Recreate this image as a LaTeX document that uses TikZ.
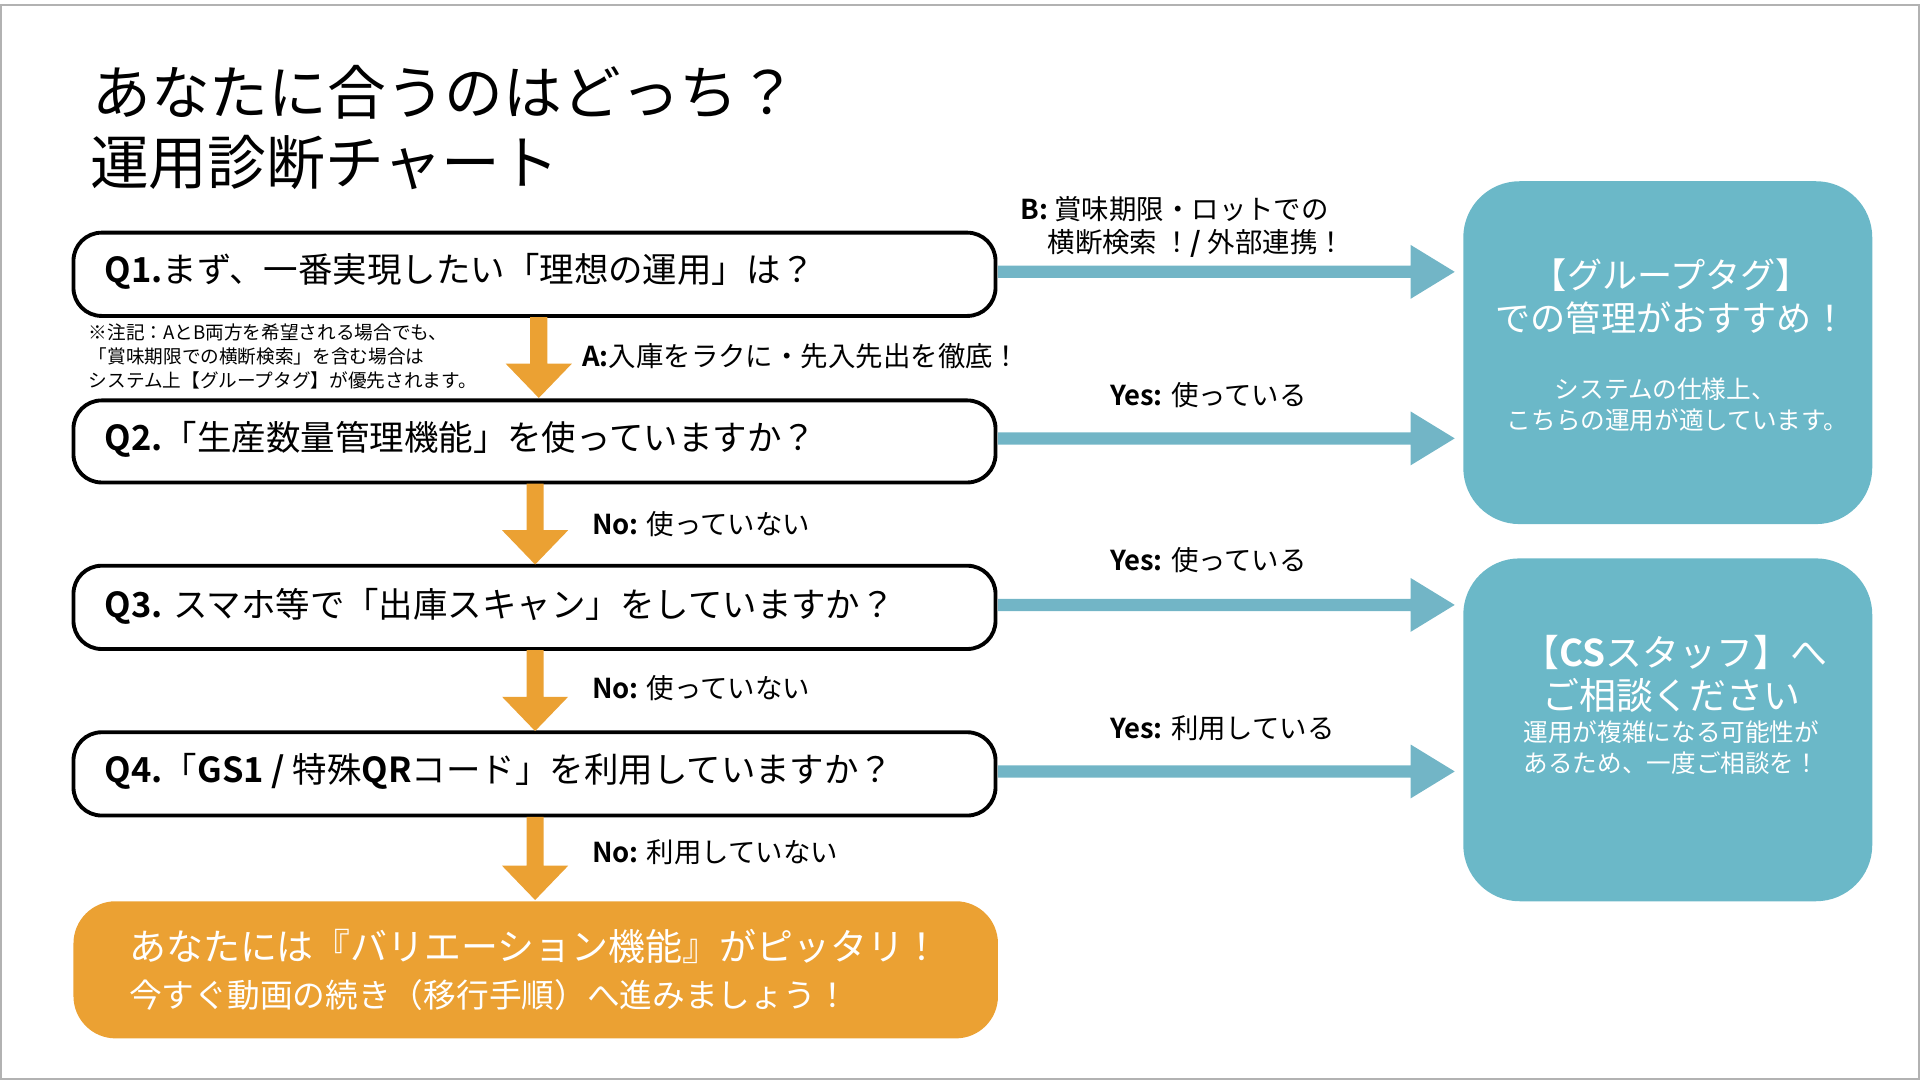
\documentclass[tikz,border=0pt]{standalone}
\usepackage{fontspec}
\setmainfont{Noto Sans CJK JP}[BoldFont={Noto Sans CJK JP Bold}]
\begin{document}
\begin{tikzpicture}[x=0.012245cm,y=-0.012245cm,
  qbox/.style={draw=black,line width=1.1pt,rounded corners=8pt,fill=white},
  qt/.style={anchor=west,font=\fontsize{9.8}{11}\selectfont,inner sep=0},
  lab/.style={anchor=west,font=\fontsize{7.8}{9}\selectfont,inner sep=0},
  oarr/.style={fill=orange!80!yellow!90!black,draw=none},
  barr/.style={fill=bluec,draw=none}]
\definecolor{bluec}{HTML}{72B5C6}
\definecolor{boxb}{HTML}{6BB8C8}
\definecolor{orng}{HTML}{EBA133}
\tikzset{oarr/.style={fill=orng,draw=none}}
\path[use as bounding box] (0,0) rectangle (1568,882);
\draw[gray!60,line width=0.6pt] (1,4) rectangle (1567,881);
% title
\node[anchor=west,inner sep=0,font=\fontsize{16.7}{18}\selectfont] (t1) at (75,75) {あなたに合うのはどっち？};
\node[anchor=west,inner sep=0,font=\fontsize{16.7}{18}\selectfont] (t2) at (73,133) {運用診断チャート};
% boxes
\draw[qbox] (60,190) rectangle (813,258);
\draw[qbox] (60,327) rectangle (813,394);
\draw[qbox] (60,462) rectangle (813,530);
\draw[qbox] (60,598) rectangle (813,666);
\node[qt] (q1) at (85,222) {\textbf{Q1.}まず、一番実現したい「理想の運用」は？};
\node[qt] (q2) at (85,359) {\textbf{Q2.}「生産数量管理機能」を使っていますか？};
\node[qt] (q3) at (85,495) {\textbf{Q3.} スマホ等で「出庫スキャン」をしていますか？};
\node[qt] (q4) at (85,630) {\textbf{Q4.}「\textbf{GS1 / }特殊\textbf{QR}コード」を利用していますか？};
\fill[orng,rounded corners=12pt] (60,736) rectangle (815,848);
\node[anchor=west,inner sep=0,text=white,font=\fontsize{10.5}{12}\selectfont] (r1) at (105,773) {あなたには『バリエーション機能』がピッタリ！};
\node[anchor=west,inner sep=0,text=white,font=\fontsize{9.3}{11}\selectfont] (r2) at (105,813) {今すぐ動画の続き（移行手順）へ進みましょう！};
% right boxes
\fill[boxb,rounded corners=16pt] (1195,148) rectangle (1529,428);
\fill[boxb,rounded corners=16pt] (1195,456) rectangle (1529,736);
\begin{scope}[every node/.style={text=white,inner sep=0}]
\node[font=\fontsize{10}{12}\selectfont] (g1) at (1365,225) {【グループタグ】};
\node[font=\fontsize{10}{12}\selectfont] (g2) at (1365,260) {での管理がおすすめ！};
\node[font=\fontsize{7}{8}\selectfont] (g3) at (1360,318) {システムの仕様上、};
\node[font=\fontsize{7}{8}\selectfont] (g4) at (1370,343) {こちらの運用が適しています。};
\node[font=\fontsize{10.5}{12}\selectfont] (c1) at (1368,533) {【\textbf{CS}スタッフ】へ};
\node[font=\fontsize{10.5}{12}\selectfont] (c2) at (1365,568) {ご相談ください};
\node[font=\fontsize{7}{8}\selectfont] (c3) at (1365,598) {運用が複雑になる可能性が};
\node[font=\fontsize{7}{8}\selectfont] (c4) at (1365,623) {あるため、一度ご相談を！};
\end{scope}
% orange arrows
\foreach \x/\a/\b in {440/259/325,437/395/461,437/531/597,437/667/735}{
  \fill[orng] (\x-7,\a) -- (\x+7,\a) -- (\x+7,\b-28) -- (\x+27,\b-28) -- (\x,\b) -- (\x-27,\b-28) -- (\x-7,\b-28) -- cycle;}
% blue arrows
\foreach \y in {222,358,494,630}{
  \fill[bluec] (815,\y-5) -- (1152,\y-5) -- (1152,\y-22) -- (1188,\y) -- (1152,\y+22) -- (1152,\y+5) -- (815,\y+5) -- cycle;}
% labels
\node[lab] (lb1) at (833,171) {\textbf{B:} 賞味期限・ロットでの};
\node[lab] (lb2) at (855,199) {横断検索 ！\textbf{/} 外部連携！};
\node[lab] (la) at (475,291) {\textbf{A:}入庫をラクに・先入先出を徹底！};
\node[lab] (y2) at (906,323) {\textbf{Yes:} 使っている};
\node[lab] (n2) at (483,428) {\textbf{No:} 使っていない};
\node[lab] (y3) at (906,457) {\textbf{Yes:} 使っている};
\node[lab] (n3) at (483,562) {\textbf{No:} 使っていない};
\node[lab] (y4) at (906,595) {\textbf{Yes:} 利用している};
\node[lab] (n4) at (483,696) {\textbf{No:} 利用していない};
\node[anchor=north west,inner sep=0,align=left,font=\fontsize{5.3}{6.8}\selectfont] (note) at (72,264) {※注記：AとB両方を希望される場合でも、\\「賞味期限での横断検索」を含む場合は\\システム上【グループタグ】が優先されます。};
\end{tikzpicture}
\end{document}
